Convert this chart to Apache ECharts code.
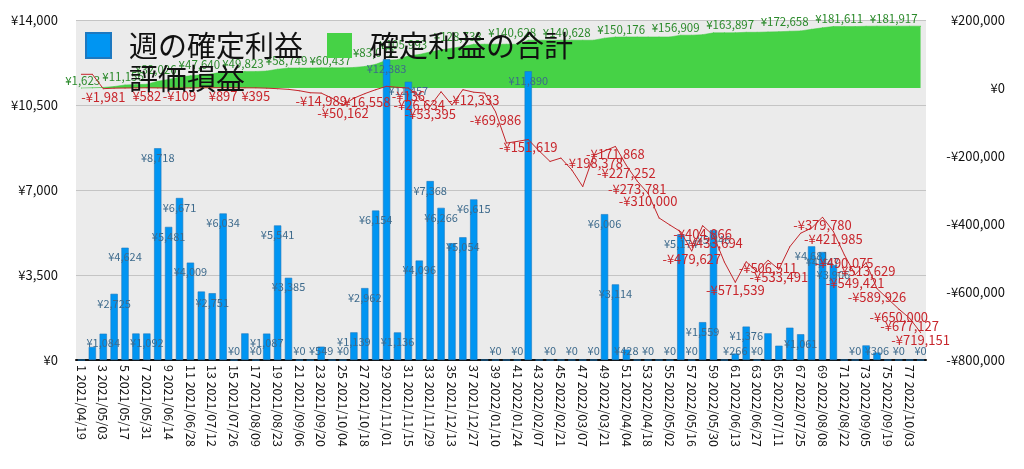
<!DOCTYPE html>
<html><head><meta charset="utf-8">
<script src="https://cdn.jsdelivr.net/npm/echarts@6/dist/echarts.min.js"></script>
<style>html,body{margin:0;padding:0;background:#fff}#c{width:1024px;height:469px}</style>
</head><body><div id="c"></div>
<script>
// ---- data ----
const weeks = ["2021/04/19","2021/04/26","2021/05/03","2021/05/10","2021/05/17","2021/05/24","2021/05/31","2021/06/07","2021/06/14","2021/06/21","2021/06/28","2021/07/05","2021/07/12","2021/07/19","2021/07/26","2021/08/02","2021/08/09","2021/08/16","2021/08/23","2021/08/30","2021/09/06","2021/09/13","2021/09/20","2021/09/27","2021/10/04","2021/10/11","2021/10/18","2021/10/25","2021/11/01","2021/11/08","2021/11/15","2021/11/22","2021/11/29","2021/12/06","2021/12/13","2021/12/20","2021/12/27","2022/01/03","2022/01/10","2022/01/17","2022/01/24","2022/01/31","2022/02/07","2022/02/14","2022/02/21","2022/02/28","2022/03/07","2022/03/14","2022/03/21","2022/03/28","2022/04/04","2022/04/11","2022/04/18","2022/04/25","2022/05/02","2022/05/09","2022/05/16","2022/05/23","2022/05/30","2022/06/06","2022/06/13","2022/06/20","2022/06/27","2022/07/04","2022/07/11","2022/07/18","2022/07/25","2022/08/01","2022/08/08","2022/08/15","2022/08/22","2022/08/29","2022/09/05","2022/09/12","2022/09/19","2022/09/26","2022/10/03","2022/10/10"];
const weeklyProfit = [0,539,1084,2725,4624,1092,1092,8718,5481,6671,4009,2820,2751,6034,0,1096,0,1087,5541,3385,0,0,549,0,0,1139,2962,6154,12383,1136,11457,4096,7368,6266,4810,5054,6615,0,0,0,0,11890,0,0,0,0,0,0,6006,3114,428,0,0,0,0,5174,0,1559,5346,0,266,1376,0,1098,590,1331,1061,4681,4447,3906,0,0,600,306,0,0,0,0];
const totalProfit = [0,539,1623,4348,8972,10064,11156,19874,25355,32026,36035,38855,41606,47640,47640,48736,48736,49823,55364,58749,58749,58749,59298,59298,59298,60437,63399,69553,81936,83072,94529,98625,105993,112259,117069,122123,128738,128738,128738,128738,128738,140628,140628,140628,140628,140628,140628,140628,146634,149748,150176,150176,150176,150176,150176,155350,155350,156909,162255,162255,162521,163897,163897,164995,165585,166916,167977,172658,177105,181011,181011,181011,181611,181917,181917,181917,181917,181917];
const unrealized = [40300,40300,-1981,-500,0,300,582,300,0,-109,300,600,800,897,700,500,395,-500,-2000,-4000,-8000,-14000,-14989,-30000,-50162,-30000,-16558,-5000,5000,2000,-136,-26634,-53395,-11000,-50000,-5000,-12333,-15000,-69986,-162000,-157000,-151619,-185000,-216000,-206000,-241000,-290000,-198378,-185000,-171868,-227252,-273781,-310000,-382000,-403000,-423000,-479627,-404866,-433694,-512000,-571539,-511000,-541000,-506511,-533491,-467000,-427000,-412000,-379780,-421985,-490075,-549421,-513629,-589926,-620000,-650000,-677127,-719151];
const leftMax = 14000, leftStep = 3500;
const rightMin = -800000, rightMax = 200000, rightStep = 200000;
// which points carry a visible value label (1-based week numbers)
const barLabelWeeks = [3,4,5,7,8,9,10,11,13,14,15,17,18,19,20,21,23,25,26,27,28,29,30,31,32,33,34,36,37,39,41,42,44,46,48,49,50,51,53,55,56,57,58,59,61,62,63,67,68,69,70,72,74,76,78];
const totalLabelWeeks = [3,7,10,14,18,22,26,30,33,38,43,48,53,58,63,68,73,78];
const unrealLabelWeeks = [3,7,10,14,17,23,25,27,31,32,33,37,39,42,48,50,51,52,53,57,58,59,61,64,65,69,70,71,72,73,74,76,77,78];

const FONT = '"Noto Sans CJK JP","Noto Sans",sans-serif';
function yen(v){ const s='¥'+Math.abs(Math.round(v)).toLocaleString('en-US'); return v<0?'-'+s:s; }
const cats = weeks.map((d,i)=>(i+1)+' '+d);

const barData = weeklyProfit.map((v,i)=>({
  value:v,
  label:{show:barLabelWeeks.includes(i+1), position: v<830?'insideBottom':'insideTop', distance:4}
}));

const chart = echarts.init(document.getElementById('c'), null, {renderer:'canvas'});
chart.setOption({
  animation:false,
  textStyle:{fontFamily:FONT},
  grid:{left:76,right:98,top:20,bottom:109,show:true,backgroundColor:'#ebebeb',borderWidth:0},
  legend:{
    left:85, top:31, width:520, padding:0, itemWidth:25, itemHeight:25, itemGap:4,
    textStyle:{fontSize:29,lineHeight:29,color:'#111',fontFamily:FONT,padding:[0,20,0,13]},
    data:[{name:'週の確定利益',icon:'rect'},{name:'確定利益の合計',icon:'rect'},
          {name:'評価損益',icon:'rect',itemStyle:{color:'rgba(0,0,0,0)',borderWidth:0},lineStyle:{opacity:0}}]
  },
  xAxis:{
    type:'category', data:cats, boundaryGap:true,
    axisLine:{lineStyle:{color:'#111',width:2}}, axisTick:{show:false},
    axisLabel:{interval:1,rotate:-90,fontSize:12.5,color:'#111',margin:5,fontFamily:FONT}
  },
  yAxis:[
    {type:'value',min:0,max:leftMax,interval:leftStep,
     axisLine:{show:false},axisTick:{show:false},
     splitLine:{lineStyle:{color:'#c4c4c4',width:1}},
     axisLabel:{formatter:v=>yen(v),fontSize:13,color:'#111',margin:18}},
    {type:'value',min:rightMin,max:rightMax,interval:rightStep,
     axisLine:{show:false},axisTick:{show:false},splitLine:{show:false},
     axisLabel:{formatter:v=>yen(v),fontSize:13,color:'#111',margin:79,align:'right'}}
  ],
  series:[
    {name:'確定利益の合計',type:'line',yAxisIndex:1,data:totalProfit,z:1,
     symbol:'circle',symbolSize:1,showSymbol:true,
     lineStyle:{width:0.5,color:'#3fc43f'},itemStyle:{color:'#46d246'},
     areaStyle:{color:'#46d246',opacity:1},
     label:{show:true,position:'top',distance:1,align:'right',offset:[-3,0],fontSize:11.5,color:'#2b8a2b',
       formatter:p=>totalLabelWeeks.includes(p.dataIndex+1)?yen(p.value):''}},
    {name:'週の確定利益',type:'bar',data:barData,z:2,barWidth:'67%',
     itemStyle:{color:'#0095f2',borderColor:'#1c78c0',borderWidth:0.6},
     label:{fontSize:11,color:'#3d6a8c',formatter:p=>yen(p.value)}},
    {name:'評価損益',type:'line',yAxisIndex:1,data:unrealized,z:3,
     symbol:'circle',symbolSize:1,showSymbol:true,
     lineStyle:{width:1,color:'#c3262b'},itemStyle:{color:'#c3262b'},
     label:{show:true,position:'bottom',distance:1,fontSize:13,color:'#c8262c',
       formatter:p=>unrealLabelWeeks.includes(p.dataIndex+1)?yen(p.value):''}}
  ]
});
</script></body></html>
